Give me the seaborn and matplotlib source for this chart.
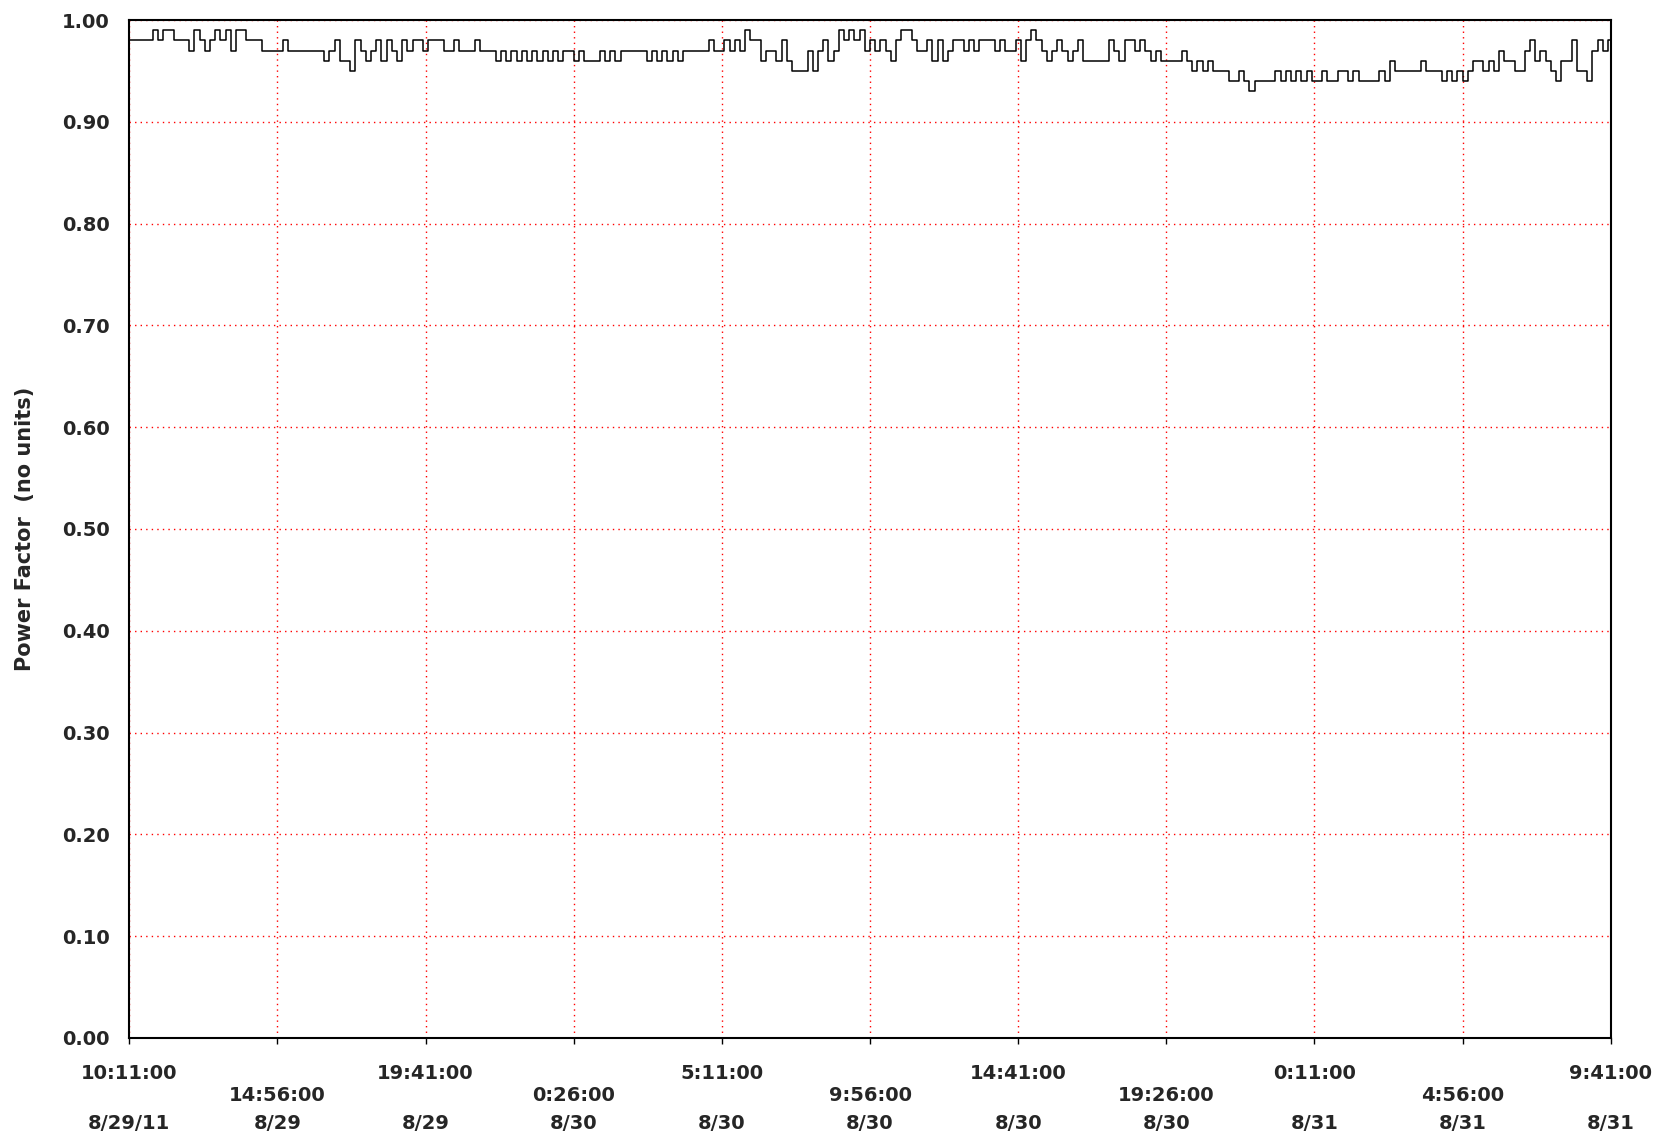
import pandas as pd
import matplotlib
matplotlib.use("Agg")
import matplotlib.pyplot as plt
import seaborn as sns

sns.set_style("white")
plt.rcParams['font.family'] = ['DejaVu Sans']

# power factor readings, hundredths, every 10 minutes from the start
start = "2011-08-29 10:11"
step_min = 10
pf = [
    98, 98, 98, 98, 98, 99, 98, 99, 99, 98,
    98, 98, 97, 99, 98, 97, 98, 99, 98, 99,
    97, 99, 99, 98, 98, 98, 97, 97, 97, 97,
    98, 97, 97, 97, 97, 97, 97, 97, 96, 97,
    98, 96, 96, 95, 98, 97, 96, 97, 98, 96,
    98, 97, 96, 98, 97, 98, 98, 97, 98, 98,
    98, 97, 97, 98, 97, 97, 97, 98, 97, 97,
    97, 96, 97, 96, 97, 96, 97, 96, 97, 96,
    97, 96, 97, 96, 97, 97, 96, 97, 96, 96,
    96, 97, 96, 97, 96, 97, 97, 97, 97, 97,
    96, 97, 96, 97, 96, 97, 96, 97, 97, 97,
    97, 97, 98, 97, 97, 98, 97, 98, 97, 99,
    98, 98, 96, 97, 97, 96, 98, 96, 95, 95,
    95, 97, 95, 97, 98, 96, 97, 99, 98, 99,
    98, 99, 97, 98, 97, 98, 97, 96, 98, 99,
    99, 98, 97, 97, 98, 96, 98, 96, 97, 98,
    98, 97, 98, 97, 98, 98, 98, 97, 98, 97,
    97, 98, 96, 98, 99, 98, 97, 96, 97, 98,
    97, 96, 97, 98, 96, 96, 96, 96, 96, 98,
    97, 96, 98, 98, 97, 98, 97, 96, 97, 96,
    96, 96, 96, 97, 96, 95, 96, 95, 96, 95,
    95, 95, 94, 94, 95, 94, 93, 94, 94, 94,
    94, 95, 94, 95, 94, 95, 94, 95, 94, 94,
    95, 94, 94, 95, 95, 94, 95, 94, 94, 94,
    94, 95, 94, 96, 95, 95, 95, 95, 95, 96,
    95, 95, 95, 94, 95, 94, 95, 94, 95, 96,
    96, 95, 96, 95, 97, 96, 96, 95, 95, 97,
    98, 96, 97, 96, 95, 94, 96, 96, 98, 95,
    95, 94, 97, 98, 97, 98,
]

tick_step = "285min"
tick_times = ["10:11:00", "14:56:00", "19:41:00", "0:26:00", "5:11:00", "9:56:00",
              "14:41:00", "19:26:00", "0:11:00", "4:56:00", "9:41:00"]
tick_dates = ["8/29/11", "8/29", "8/29", "8/30", "8/30", "8/30",
              "8/30", "8/30", "8/31", "8/31", "8/31"]
y_ticks = [i / 10 for i in range(11)]

df = pd.DataFrame({
    "time": pd.date_range(start, periods=len(pf), freq=f"{step_min}min"),
    "pf": [v / 100 for v in pf],
})

fig = plt.figure(figsize=(16.67, 11.38), dpi=100)
ax = fig.add_axes([0.0776, 0.0879, 0.8886, 0.8945])

sns.lineplot(data=df, x="time", y="pf", ax=ax, color="black", lw=1.1,
             estimator=None, drawstyle="steps-mid")

ticks = pd.date_range(start, periods=len(tick_times), freq=tick_step)
ax.xaxis.remove_overlapping_locs = False
time_labels = [t if i % 2 == 0 else f"\n{t}" for i, t in enumerate(tick_times)]
ax.set_xticks(ticks)
ax.set_xticklabels(time_labels, fontsize=14, fontweight="bold", linespacing=1.15)
ax.set_xticks(ticks, minor=True)
ax.set_xticklabels(tick_dates, minor=True, fontsize=14, fontweight="bold")
ax.set_xlim(ticks[0], ticks[-1])

ax.set_ylim(0, 1)
ax.set_yticks(y_ticks)
ax.set_yticklabels([f"{v:.2f}" for v in y_ticks], fontsize=14, fontweight="bold")

ax.grid(True, which="major", color="red", linestyle=(0, (1, 3)), linewidth=1)
ax.tick_params(axis="x", which="major", length=4, width=1, pad=15, bottom=True, color="black")
ax.tick_params(axis="x", which="minor", length=0, pad=55, bottom=True)
ax.tick_params(axis="y", length=0, pad=14)
for s in ax.spines.values():
    s.set_color("black")
    s.set_linewidth(1.5)

ax.set_xlabel("")
ax.set_ylabel("Power Factor  (no units)", fontsize=15, fontweight="bold")
ax.yaxis.set_label_coords(-0.064, 0.5)

fig.savefig("out.png", dpi=100, facecolor="white")
